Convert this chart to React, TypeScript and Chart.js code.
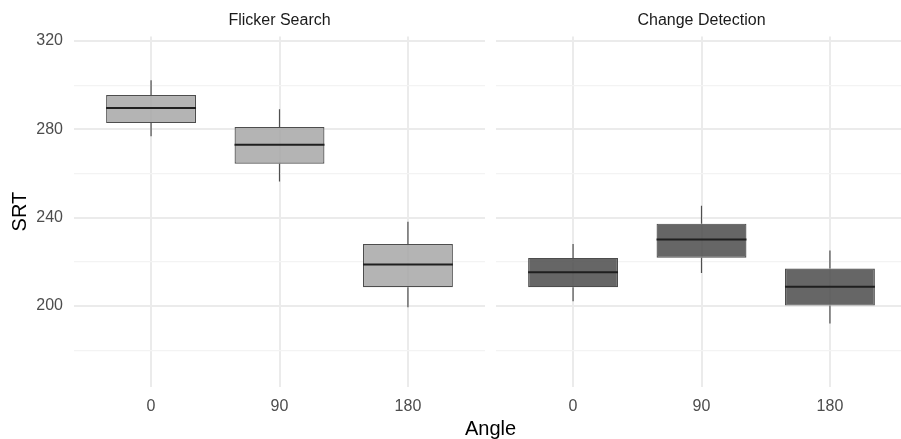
import { useEffect, useRef } from 'react';
import { Chart, registerables } from 'chart.js';

Chart.register(...registerables);

// ---- data ----
const categories = ['0', '90', '180'];
const facetTitles = ['Flicker Search', 'Change Detection'];
const xTitle = 'Angle';
const yTitle = 'SRT';
const yMajorTicks = [200, 240, 280, 320];
const yMinorTicks = [180, 220, 260, 300];

const flickerMin = [276.8, 256.4, 199.5];
const flickerQ1 = [282.8, 264.4, 208.5];
const flickerMedian = [289.6, 273.0, 218.8];
const flickerQ3 = [295.5, 281.0, 228.1];
const flickerMax = [302.2, 289.1, 238.2];

const changeMin = [202.2, 215.0, 192.1];
const changeQ1 = [208.5, 221.9, 200.2];
const changeMedian = [215.3, 230.1, 208.7];
const changeQ3 = [221.8, 237.3, 217.0];
const changeMax = [228.1, 245.4, 225.2];

const FONT = '"Liberation Sans", Arial, sans-serif';

type Stats = { min: number[]; q1: number[]; median: number[]; q3: number[]; max: number[]; fill: string };

const panels: Stats[] = [
  { min: flickerMin, q1: flickerQ1, median: flickerMedian, q3: flickerQ3, max: flickerMax, fill: 'rgba(167,167,167,0.85)' },
  { min: changeMin, q1: changeQ1, median: changeMedian, q3: changeQ3, max: changeMax, fill: 'rgba(75,75,75,0.85)' },
];

function boxPlugin(s: Stats) {
  return {
    id: 'boxWhiskers',
    beforeDatasetsDraw(chart: any) {
      const { ctx } = chart;
      const x = chart.scales.x;
      const y = chart.scales.y;
      ctx.save();
      ctx.strokeStyle = '#4f4f4f';
      ctx.lineWidth = 1.2;
      s.q1.forEach((_, i) => {
        const px = x.getPixelForValue(i + 1);
        ctx.beginPath();
        ctx.moveTo(px, y.getPixelForValue(s.q3[i]));
        ctx.lineTo(px, y.getPixelForValue(s.max[i]));
        ctx.moveTo(px, y.getPixelForValue(s.q1[i]));
        ctx.lineTo(px, y.getPixelForValue(s.min[i]));
        ctx.stroke();
      });
      ctx.restore();
    },
    afterDatasetsDraw(chart: any) {
      const { ctx } = chart;
      const y = chart.scales.y;
      const meta = chart.getDatasetMeta(0);
      ctx.save();
      ctx.strokeStyle = '#1f1f1f';
      ctx.lineWidth = 2;
      meta.data.forEach((el: any, i: number) => {
        const py = y.getPixelForValue(s.median[i]);
        ctx.beginPath();
        ctx.moveTo(el.x - el.width / 2, py);
        ctx.lineTo(el.x + el.width / 2, py);
        ctx.stroke();
      });
      ctx.restore();
    },
  };
}

function buildChart(canvas: HTMLCanvasElement, panel: number) {
  const s = panels[panel];
  const first = panel === 0;
  return new Chart(canvas, {
    type: 'bar',
    data: {
      datasets: [
        {
          data: categories.map((_, i) => ({ x: i + 1, y: [s.q1[i], s.q3[i]] })) as any,
          backgroundColor: s.fill,
          borderColor: '#4d4d4d',
          borderWidth: 1.2,
          borderSkipped: false,
          barPercentage: 0.7,
          categoryPercentage: 1,
        },
      ],
    },
    options: {
      responsive: false,
      animation: false,
      events: [],
      layout: { padding: 0 },
      plugins: {
        legend: { display: false },
        tooltip: { enabled: false },
        title: {
          display: true,
          text: facetTitles[panel],
          fullSize: false,
          color: '#1a1a1a',
          font: { family: FONT, size: 16, weight: 'normal' },
          padding: { top: 11, bottom: 6.3 },
        },
      },
      scales: {
        x: {
          type: 'linear',
          min: 0.4,
          max: 3.6,
          offset: false,
          afterBuildTicks: (sc: any) => {
            sc.ticks = categories.map((_, i) => ({ value: i + 1 }));
          },
          afterFit: (sc: any) => {
            sc.height = 52.3;
          },
          grid: { offset: false, color: '#ebebeb', lineWidth: 2, drawTicks: false, tickLength: 0 },
          border: { display: false },
          ticks: {
            color: '#4d4d4d',
            font: { family: FONT, size: 16 },
            padding: 10,
            maxRotation: 0,
            autoSkip: false,
            callback: (v: any) => categories[Number(v) - 1] ?? '',
          },
        },
        y: {
          type: 'linear',
          min: 163.5,
          max: 322,
          afterBuildTicks: (sc: any) => {
            sc.ticks = [...yMinorTicks, ...yMajorTicks].sort((a, b) => a - b).map((v) => ({ value: v }));
          },
          afterFit: (sc: any) => {
            sc.width = first ? 74 : 0;
          },
          grid: {
            color: (c: any) => (yMajorTicks.includes(c.tick?.value) ? '#ebebeb' : '#f3f3f3'),
            lineWidth: (c: any) => (yMajorTicks.includes(c.tick?.value) ? 2 : 1.2),
            drawTicks: false,
            tickLength: 0,
          },
          border: { display: false },
          ticks: {
            display: first,
            color: '#4d4d4d',
            font: { family: FONT, size: 16 },
            padding: 11,
            callback: (v: any) => (yMajorTicks.includes(Number(v)) ? String(v) : ''),
          },
          title: {
            display: first,
            text: yTitle,
            color: '#000000',
            font: { family: FONT, size: 20 },
            padding: { top: 8, bottom: 0 },
          },
        },
      },
    } as any,
    plugins: [boxPlugin(s)],
  });
}

export default function App() {
  const ref1 = useRef<HTMLCanvasElement>(null);
  const ref2 = useRef<HTMLCanvasElement>(null);
  useEffect(() => {
    const c1 = buildChart(ref1.current!, 0);
    const c2 = buildChart(ref2.current!, 1);
    return () => {
      c1.destroy();
      c2.destroy();
    };
  }, []);
  return (
    <div style={{ position: 'absolute', left: 0, top: 0, width: 901, height: 439, overflow: 'hidden', background: '#ffffff' }}>
      <canvas ref={ref1} width={485} height={439} style={{ position: 'absolute', left: 0, top: 0, width: 485, height: 439 }} />
      <canvas ref={ref2} width={411} height={439} style={{ position: 'absolute', left: 496, top: 0, width: 411, height: 439 }} />
      <div
        style={{
          position: 'absolute',
          left: 0,
          top: 418,
          width: 981,
          textAlign: 'center',
          fontFamily: FONT,
          fontSize: 20,
          lineHeight: '20px',
          color: '#000000',
        }}
      >
        {xTitle}
      </div>
    </div>
  );
}
